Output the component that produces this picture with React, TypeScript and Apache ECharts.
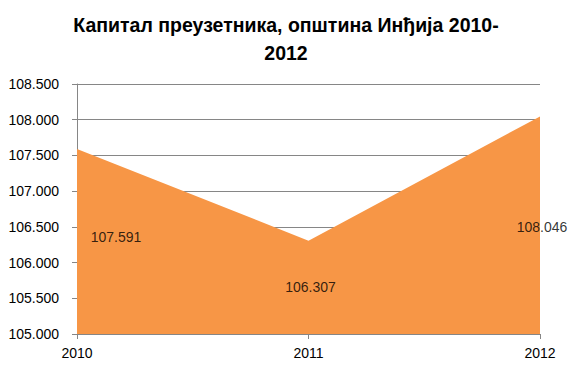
import React, { useEffect, useRef } from "react";
import * as echarts from "echarts";

const categories = ["2010", "2011", "2012"];
const values = [107591, 106307, 108046];
const yMin = 105000;
const yMax = 108500;
const yInterval = 500;
const titleText = "Капитал преузетника, општина Инђија 2010-\n2012";

const fmt = (v: number) => {
  const s = Math.round(v).toString();
  return s.replace(/\B(?=(\d{3})+(?!\d))/g, ".");
};

export default function App() {
  const ref = useRef<HTMLDivElement>(null);
  useEffect(() => {
    if (!ref.current) return;
    const chart = echarts.init(ref.current, null, { renderer: "svg" });
    const labelOffsets = [[39, -4], [2, 0], [2, 2]];
    chart.setOption({
      animation: false,
      backgroundColor: "#ffffff",
      title: {
        text: titleText,
        left: "center",
        top: 6,
        textStyle: {
          fontFamily: "Liberation Sans",
          fontWeight: "bold",
          fontSize: 19.5,
          lineHeight: 28,
          color: "#000000",
        },
      },
      grid: { left: 77, right: 32, top: 84, bottom: 35, containLabel: false },
      xAxis: {
        type: "category",
        data: categories,
        boundaryGap: false,
        axisLine: { lineStyle: { color: "#868686", width: 1 } },
        axisTick: { show: true, length: 5, lineStyle: { color: "#868686" } },
        axisLabel: {
          color: "#000",
          fontFamily: "Liberation Sans",
          fontSize: 14,
          margin: 12,
        },
        splitLine: { show: false },
      },
      yAxis: {
        type: "value",
        min: yMin,
        max: yMax,
        interval: yInterval,
        axisLine: { show: true, lineStyle: { color: "#868686", width: 1 } },
        axisTick: { show: true, length: 5, lineStyle: { color: "#868686" } },
        axisLabel: {
          color: "#000",
          fontFamily: "Liberation Sans",
          fontSize: 14,
          margin: 18,
          formatter: (v: number) => fmt(v),
        },
        splitLine: { show: true, lineStyle: { color: "#868686", width: 1 } },
      },
      series: [
        {
          type: "line",
          data: values,
          symbol: "none",
          lineStyle: { color: "#F79646", width: 0 },
          areaStyle: { color: "#F79646", opacity: 1, origin: "start" },
          z: 2,
        },
        {
          type: "scatter",
          symbolSize: 0,
          data: values.map((v, i) => ({
            value: [categories[i], (v + yMin) / 2],
            label: { offset: labelOffsets[i] },
          })),
          label: {
            show: true,
            position: "inside",
            color: "#000",
            fontFamily: "Liberation Sans",
            fontSize: 14,
            formatter: (p: any) => fmt(values[p.dataIndex]),
          },
          z: 5,
          silent: true,
        },
      ],
    });
    return () => chart.dispose();
  }, []);
  return <div ref={ref} style={{ width: 572, height: 369, position: "absolute", left: 0, top: 0 }} />;
}
